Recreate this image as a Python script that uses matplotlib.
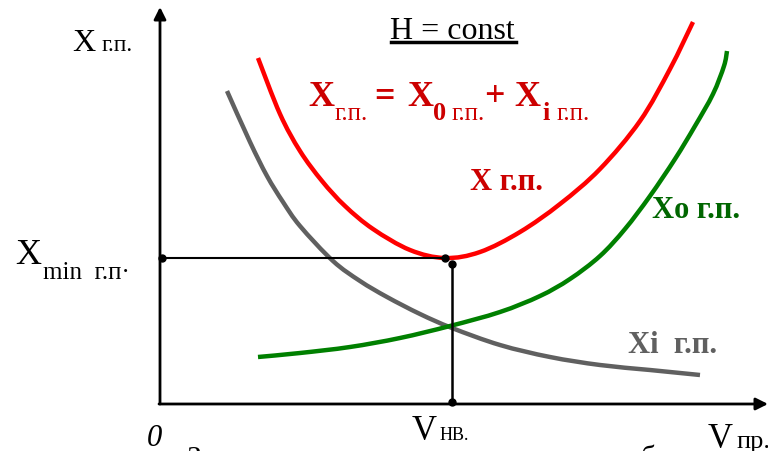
import matplotlib
matplotlib.use("Agg")
import matplotlib.pyplot as plt
from matplotlib.path import Path
from matplotlib.patches import PathPatch

# Curves (V in arbitrary units, X in arbitrary units)
v_i = [6.7, 9.0, 10.7, 12.3, 14.0, 17.3, 20.0, 22.7, 26.0, 29.2, 34.0, 39.0, 44.0, 49.0, 54.0]
x_i = [31.3, 26.2, 22.8, 20.2, 17.8, 14.3, 12.3, 10.7, 9.0, 7.6, 5.9, 4.7, 3.9, 3.4, 2.9]

v_0 = [9.8, 14.0, 19.0, 24.0, 29.0, 34.0, 38.0, 41.0, 44.0, 46.5, 49.0, 51.5, 53.5, 55.3, 56.4, 56.7]
x_0 = [4.7, 5.1, 5.7, 6.6, 7.8, 9.2, 10.8, 12.5, 14.8, 17.5, 20.8, 24.5, 27.8, 31.0, 33.8, 35.3]

v_sum = [9.8, 12.0, 14.0, 16.2, 18.5, 21.3, 25.0, 28.5, 32.0, 36.0, 40.0, 44.0, 48.0, 51.0, 53.3]
x_sum = [34.6, 29.0, 25.3, 22.3, 19.8, 17.5, 15.4, 14.6, 15.2, 17.2, 20.0, 23.5, 28.3, 33.5, 38.2]

v_min = 28.5   # point of minimum on the total curve
x_min = 14.6
v_nv = 29.2    # marked speed on the V axis
x_nv = 14.0

W, H = 768, 452
fig = plt.figure(figsize=(W / 100, H / 100), dpi=100)
ax = fig.add_axes([0, 0, 1, 1])
ax.set_xlim(-16.0, 60.8)
ax.set_ylim(-4.7, 40.5)
ax.axis("off")

SERIF = "Liberation Serif"


def smooth_curve(xs, ys, color):
    """Draw a smooth Bezier path through the read points (Catmull-Rom)."""
    pts = list(zip(xs, ys))
    verts = [pts[0]]
    codes = [Path.MOVETO]
    n = len(pts)
    for k in range(n - 1):
        p0 = pts[k - 1] if k > 0 else pts[k]
        p1 = pts[k]
        p2 = pts[k + 1]
        p3 = pts[k + 2] if k + 2 < n else pts[k + 1]
        c1 = (p1[0] + (p2[0] - p0[0]) / 6, p1[1] + (p2[1] - p0[1]) / 6)
        c2 = (p2[0] - (p3[0] - p1[0]) / 6, p2[1] - (p3[1] - p1[1]) / 6)
        verts += [c1, c2, p2]
        codes += [Path.CURVE4] * 3
    ax.add_patch(PathPatch(Path(verts, codes), facecolor="none", edgecolor=color,
                           lw=3.2, capstyle="butt", joinstyle="round"))


def ptext(px, py, s, size, color="black", weight="normal", style="normal"):
    fig.text(px / W, 1 - py / H, s, fontsize=size, color=color, fontweight=weight,
             fontstyle=style, family=SERIF, ha="left", va="baseline")


# axes with arrows
ax.annotate("", xy=(0, 39.7), xytext=(0, 0),
            arrowprops=dict(arrowstyle="-|>", lw=2, color="black", mutation_scale=18, shrinkA=0, shrinkB=0))
ax.annotate("", xy=(60.8, 0), xytext=(-0.1, 0),
            arrowprops=dict(arrowstyle="-|>", lw=2, color="black", mutation_scale=18, shrinkA=0, shrinkB=0))

# curves
smooth_curve(v_i, x_i, "#606060")
smooth_curve(v_0, x_0, "#008000")
smooth_curve(v_sum, x_sum, "#ff0000")

# guide lines
ax.plot([0.2, v_min], [x_min, x_min], color="black", lw=1.5)
ax.plot([v_nv, v_nv], [x_nv, 0.2], color="black", lw=1.8)
ax.plot([0.2, v_min, v_nv, v_nv], [x_min, x_min, x_nv, 0.2], "o", color="black", ms=5)

# texts
ptext(72, 51, "X", 23)
ptext(102, 51, "г.п.", 17)
ptext(390, 39, "H = const", 23)
fig.add_artist(plt.Line2D([391 / W, 516 / W], [1 - 42.5 / H, 1 - 42.5 / H], color="black", lw=2.5))

red = "#cc0000"
ptext(308, 106, "X", 26, red, "bold")
ptext(335, 120, "г.п.", 18, red)
ptext(374, 106, "=", 26, red, "bold")
ptext(407, 106, "X", 26, red, "bold")
ptext(433, 120, "0", 19, red, "bold")
ptext(452, 120, "г.п.", 18, red)
ptext(484, 106, "+", 26, red, "bold")
ptext(514, 106, "X", 26, red, "bold")
ptext(542, 120, "i", 19, red, "bold")
ptext(557, 120, "г.п.", 18, red)

ptext(470, 190, "X г.п.", 22, red, "bold")
ptext(652, 218, "Xo г.п.", 22, "#006600", "bold")
ptext(628, 353, "Xi  г.п.", 22, "#606060", "bold")

ptext(15, 264, "X", 26)
ptext(43, 279, "min  г.п·", 18)

ptext(147, 446, "0", 22, style="italic")
ptext(412, 440, "V", 25)
ptext(440, 440, "НВ.", 13)
ptext(708, 448, "V", 25)
ptext(736, 448, "пр.", 19)

ptext(187, 466, "Зависимость составляющих силы лобового", 21)

fig.savefig("out.png", dpi=100)
